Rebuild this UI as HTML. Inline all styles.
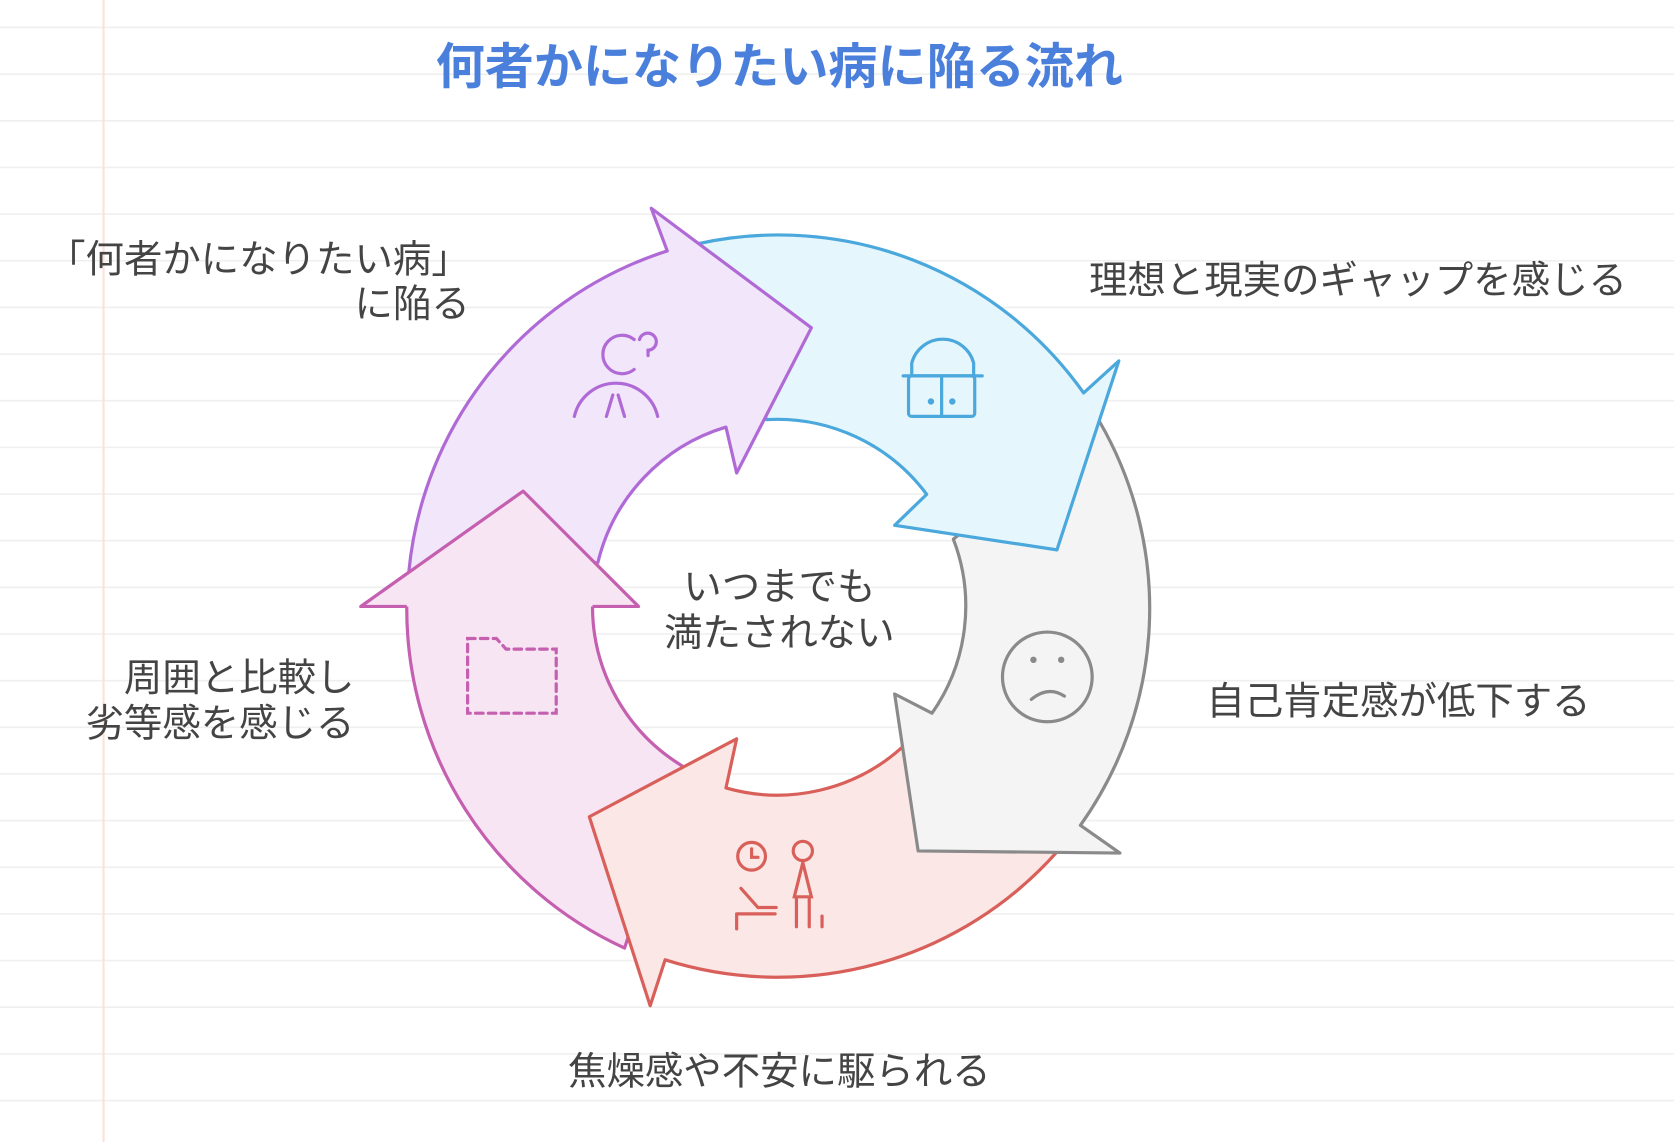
<!DOCTYPE html>
<html><head><meta charset="utf-8"><style>
html,body{margin:0;padding:0;background:#fff;}
svg{display:block;}
text{font-family:"Liberation Sans","Noto Sans CJK JP",sans-serif;}
</style></head><body>
<svg width="1674" height="1142" viewBox="0 0 1568 1069.6" xmlns="http://www.w3.org/2000/svg">
<g stroke="#efefef" stroke-width="1.5">
<line x1="0" x2="1568" y1="25.7" y2="25.7"/><line x1="0" x2="1568" y1="69.4" y2="69.4"/><line x1="0" x2="1568" y1="113.1" y2="113.1"/><line x1="0" x2="1568" y1="156.8" y2="156.8"/><line x1="0" x2="1568" y1="200.5" y2="200.5"/><line x1="0" x2="1568" y1="244.2" y2="244.2"/><line x1="0" x2="1568" y1="287.9" y2="287.9"/><line x1="0" x2="1568" y1="331.6" y2="331.6"/><line x1="0" x2="1568" y1="375.3" y2="375.3"/><line x1="0" x2="1568" y1="419" y2="419"/><line x1="0" x2="1568" y1="462.7" y2="462.7"/><line x1="0" x2="1568" y1="506.4" y2="506.4"/><line x1="0" x2="1568" y1="550.1" y2="550.1"/><line x1="0" x2="1568" y1="593.8" y2="593.8"/><line x1="0" x2="1568" y1="637.5" y2="637.5"/><line x1="0" x2="1568" y1="681.2" y2="681.2"/><line x1="0" x2="1568" y1="724.9" y2="724.9"/><line x1="0" x2="1568" y1="768.6" y2="768.6"/><line x1="0" x2="1568" y1="812.3" y2="812.3"/><line x1="0" x2="1568" y1="856" y2="856"/><line x1="0" x2="1568" y1="899.7" y2="899.7"/><line x1="0" x2="1568" y1="943.4" y2="943.4"/><line x1="0" x2="1568" y1="987.1" y2="987.1"/><line x1="0" x2="1568" y1="1030.8" y2="1030.8"/>
</g>
<line x1="97" x2="97" y1="0" y2="1070" stroke="#fde0d8" stroke-width="2"/>

<text x="730" y="78" font-size="46" font-weight="bold" fill="#4a80dc" text-anchor="middle">何者かになりたい病に陥る流れ</text>

<g stroke-width="3" stroke-linejoin="round">
<path d="M585,888 A350 350 0 0 1 381,568 L338,568 L490,460 L598,568 L555,568 A175 175 0 0 0 640,718 Z" fill="#f8e5f3" stroke="#c55fb0"/>
<path d="M990,798 A350 350 0 0 1 623,899 L609,942 L552,765 L690,692 L680,738 A175 175 0 0 0 845,700 Z" fill="#fbe7e6" stroke="#d9605a"/>
<path d="M1030,395 A350 350 0 0 1 1012,773 L1049,799 L860,797 L838,650 L873,668 A175 175 0 0 0 893,505 Z" fill="#f4f4f4" stroke="#8a8a8a"/>
<path d="M655,228 A350 350 0 0 1 1015,368 L1048,338 L990,515 L838,492 L868,463 A175 175 0 0 0 718,393 Z" fill="#e6f6fd" stroke="#4aa8dc"/>
<path d="M383,535 A350 350 0 0 1 625,235 L610,195 L760,307 L690,443 L680,400 A175 175 0 0 0 560,527 Z" fill="#f2e6fb" stroke="#b06ad6"/>
<path d="M338,568 L490,460 L598,568 Z" fill="#f8e5f3" stroke="none"/>
<path d="M381,568 L338,568 L490,460 L598,568 L555,568" fill="none" stroke="#c55fb0"/>
</g>

<g fill="none" stroke-width="3" stroke-linecap="round">
<g stroke="#b06ad6"><path d="M594,318 A18 18 0 1 0 594,346"/><path d="M599,318 a8 8 0 1 1 8 10 v5"/><path d="M538,390 A40 40 0 0 1 616,390"/><path d="M574,370 L568,390 M579,370 L585,390"/></g>
<g stroke="#4aa8dc"><path d="M854,352 V340 A30 30 0 0 1 912,340 V352"/><path d="M846,352 H920"/><rect x="851" y="352" width="62" height="38" rx="3"/><path d="M882,352 V390"/><circle cx="872" cy="376" r="1.5" fill="#4aa8dc"/><circle cx="892" cy="376" r="1.5" fill="#4aa8dc"/></g>
<g stroke="#8a8a8a"><circle cx="981" cy="634" r="42"/><circle cx="968" cy="618" r="1.5" fill="#8a8a8a"/><circle cx="994" cy="618" r="1.5" fill="#8a8a8a"/><path d="M966,655 Q982,642 997,652"/></g>
<g stroke="#d9605a"><circle cx="704" cy="802" r="13"/><path d="M704,795 V803 H710"/><circle cx="752" cy="797" r="9"/><path d="M752,808 L744,840 H760 L752,808 M746,840 V868 M758,840 V868 M770,858 V868"/><path d="M694,832 L710,850 H727 M690,856 H726 M690,856 V870"/></g>
<g stroke="#c55fb0" stroke-dasharray="7 5"><path d="M438,598 H465 L474,608 H521 V668 H438 Z"/></g>
</g>

<g font-size="36" fill="#444">
<text x="730" y="562" text-anchor="middle">いつまでも</text>
<text x="730" y="605" text-anchor="middle">満たされない</text>
<text x="1020" y="275">理想と現実のギャップを感じる</text>
<text x="440" y="255" text-anchor="end">「何者かになりたい病」</text>
<text x="440" y="297" text-anchor="end">に陥る</text>
<text x="1130" y="669">自己肯定感が低下する</text>
<text x="332" y="647" text-anchor="end">周囲と比較し</text>
<text x="332" y="690" text-anchor="end">劣等感を感じる</text>
<text x="730" y="1016" text-anchor="middle">焦燥感や不安に駆られる</text>
</g>
</svg>
</body></html>
